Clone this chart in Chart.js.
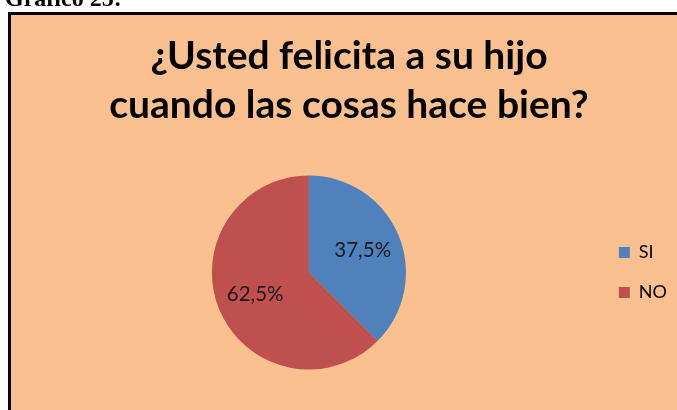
<!DOCTYPE html>
<html>
<head>
<meta charset="utf-8">
<script src="https://cdn.jsdelivr.net/npm/chart.js@4/dist/chart.umd.min.js"></script>
<style>
  html, body { margin: 0; padding: 0; background: #ffffff; }
  #c { display: block; }
</style>
</head>
<body>
<canvas id="c" width="677" height="410"></canvas>
<script>
const categories = ['SI', 'NO'];
const values = [37.5, 62.5];
const valueLabels = ['37,5%', '62,5%'];
const titleLines = ['¿Usted felicita a su hijo', 'cuando las cosas hace bien?'];
const captionText = 'Gráfico 25:';
const sliceColors = ['#4F81BD', '#C0504D'];

const framePlugin = {
  id: 'frame',
  beforeDraw(chart) {
    const ctx = chart.ctx;
    ctx.save();
    ctx.fillStyle = '#ffffff';
    ctx.fillRect(0, 0, chart.width, chart.height);
    ctx.fillStyle = '#FAC090';
    ctx.fillRect(9, 13, chart.width + 20, chart.height + 20);
    ctx.strokeStyle = '#000000';
    ctx.lineWidth = 3;
    ctx.strokeRect(9.5, 13.5, chart.width + 20, chart.height + 20);
    ctx.fillStyle = '#000000';
    ctx.font = 'bold 24px "Liberation Serif", "Times New Roman", serif';
    ctx.textAlign = 'left';
    ctx.textBaseline = 'alphabetic';
    ctx.fillText(captionText, 5, 6);
    ctx.restore();
  }
};

const valueLabelPlugin = {
  id: 'valueLabels',
  afterDatasetsDraw(chart) {
    const ctx = chart.ctx;
    const meta = chart.getDatasetMeta(0);
    ctx.save();
    ctx.font = '20.5px Lato, sans-serif';
    ctx.fillStyle = '#1a1a1a';
    ctx.textAlign = 'center';
    ctx.textBaseline = 'middle';
    meta.data.forEach((arc, i) => {
      const p = arc.getProps(['x', 'y', 'startAngle', 'endAngle', 'outerRadius'], true);
      const mid = (p.startAngle + p.endAngle) / 2;
      const r = p.outerRadius * 0.6;
      ctx.fillText(valueLabels[i], p.x + Math.cos(mid) * r, p.y + Math.sin(mid) * r);
    });
    ctx.restore();
  }
};

new Chart(document.getElementById('c'), {
  type: 'pie',
  data: {
    labels: categories,
    datasets: [{
      data: values,
      backgroundColor: sliceColors,
      borderWidth: 0,
      hoverOffset: 0
    }]
  },
  options: {
    responsive: false,
    animation: false,
    events: [],
    layout: { padding: { left: 21, right: 0, top: 0, bottom: 40.5 } },
    plugins: {
      title: {
        display: true,
        text: titleLines,
        color: '#000000',
        font: { family: 'Lato, sans-serif', size: 39, weight: 'bold', lineHeight: 1.256 },
        padding: { top: 32.3, bottom: 45.2 }
      },
      legend: {
        position: 'right',
        fullSize: false,
        labels: {
          color: '#000000',
          font: { family: 'Lato, sans-serif', size: 18 },
          boxWidth: 11,
          boxHeight: 11,
          padding: 22
        }
      },
      tooltip: { enabled: false }
    }
  },
  plugins: [framePlugin, valueLabelPlugin]
});
</script>
</body>
</html>
